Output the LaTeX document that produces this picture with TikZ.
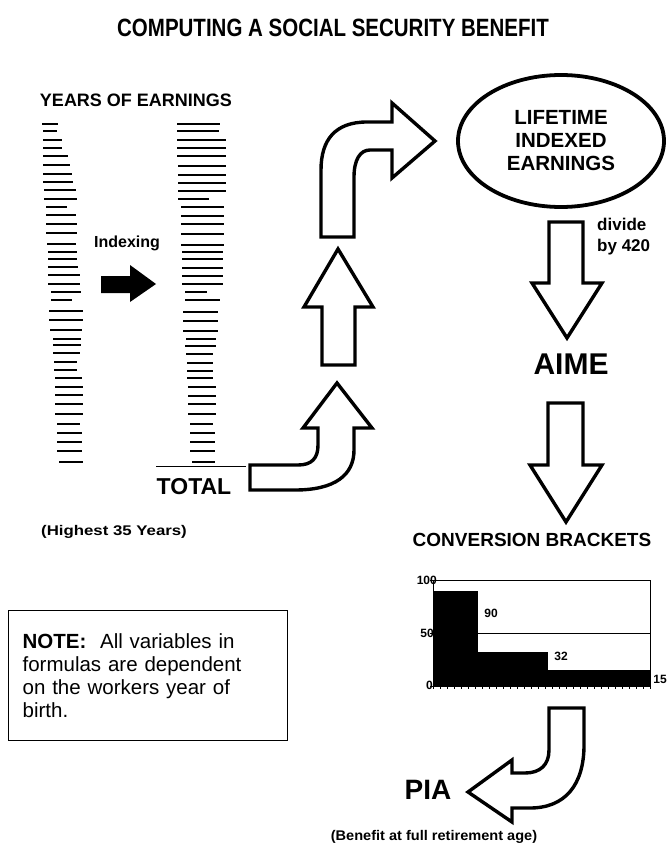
\documentclass[tikz,border=0pt]{standalone}
\usepackage{fontspec}
\setmainfont{Liberation Sans}
\usetikzlibrary{shapes.geometric}

\begin{document}
\begin{tikzpicture}[x=1pt, y=-1pt, every node/.style={inner sep=0pt},
  lbl/.style={font=\bfseries\fontsize{#1}{#1}\selectfont},
  fatarrow/.style={draw, line width=3.4pt, fill=white, line join=miter},
  yearbar/.style={line width=#1}]
\useasboundingbox (0,0) rectangle (669,850);

\node[lbl=25] (title) at (333,28) {\scalebox{0.82}[1]{COMPUTING A SOCIAL SECURITY BENEFIT}};
\node[lbl=18] (years) at (136,100) {YEARS OF EARNINGS};

\foreach \y/\a/\b in {124/42/58, 131/43/57, 140/43/62, 148/43/62, 156/43/68,
  165/43/70, 174/43/72, 182/43/73, 190/44/76, 199/44/77, 207/46/67, 215/46/76,
  224/46/77, 233/46/77, 244/47/76, 252/48/77, 259/48/77, 267/48/78, 275/48/80,
  284/48/80, 292/51/81, 300/51/72, 311/49/83, 320/49/83, 330/50/82, 339/53/81,
  345/53/81, 353/53/80, 362/54/77, 370/54/77, 378/55/82, 387/55/83, 395/55/83,
  404/55/83, 414/55/83, 424/57/80, 433/57/82, 442/57/82, 451/57/82, 462/59/83}
  \draw[yearbar=2.2pt] (\a,\y) -- (\b,\y);

\foreach \y/\a/\b in {124/177/220, 131/177/219, 140/177/226, 148/177/226,
  156/177/226, 166/178/226, 175/178/226, 183/178/226, 191/178/226, 199/178/209,
  207/181/224, 216/181/224, 224/181/224, 234/181/224, 245/181/224, 252/182/223,
  259/182/223, 268/182/223, 276/182/223, 284/182/223, 292/185/207, 300/185/220,
  312/183/218, 321/183/218, 331/183/218, 339/186/216, 346/185/216, 354/186/213,
  363/187/213, 371/187/213, 378/187/213, 387/188/216, 396/188/216, 404/188/216,
  414/188/216, 424/190/213, 433/190/215, 442/190/215, 451/190/215, 462/192/215}
  \draw[yearbar=2.8pt] (\a,\y) -- (\b,\y);

\node[lbl=16] (indexing) at (127,243) {Indexing};
\fill (101,276) -- (130,276) -- (130,265) -- (156,284) -- (130,302) -- (130,293) -- (101,293) -- cycle;

\draw[line width=1pt] (156,466) -- (246,466);
\node[lbl=23] (total) at (194,487) {TOTAL};
\node[lbl=14] (highest) at (114,532) {\scalebox{1.2}[1]{(Highest 35 Years)}};

\draw[fatarrow] (250,490) -- (295,490) .. controls (335,490) and (354,475) .. (354,450)
  -- (354,428) -- (372,428) -- (337,383) -- (303,428) -- (318,428) -- (318,445)
  .. controls (318,458) and (312,465) .. (298,465) -- (250,465) -- cycle;
\draw[fatarrow] (322,365) -- (322,307) -- (304,307) -- (338,249) -- (373,307)
  -- (355,307) -- (355,365) -- cycle;
\draw[fatarrow] (321,237) -- (321,170) .. controls (321,140) and (335,122) .. (367,122)
  -- (392,122) -- (392,103) -- (435,141) -- (392,178) -- (392,150) -- (370,150)
  .. controls (360,150) and (354,160) .. (354,177) -- (354,237) -- cycle;

\node[ellipse, draw, line width=3.8pt, minimum width=206, minimum height=132,
  align=center, font=\bfseries\fontsize{20.5}{23}\selectfont] (lie) at (561,141)
  {LIFETIME\\INDEXED\\EARNINGS};

\draw[fatarrow] (549,222) -- (583,222) -- (583,283) -- (602,283) -- (567,338)
  -- (532,283) -- (549,283) -- cycle;
\node[align=left, anchor=west, font=\bfseries\fontsize{17}{21}\selectfont] (divide)
  at (597,237) {divide\\by 420};
\node[lbl=30] (aime) at (571,364) {AIME};

\draw[fatarrow] (548,403) -- (583,403) -- (583,465) -- (602,465) -- (566,522)
  -- (530,465) -- (548,465) -- cycle;
\node[lbl=19] (conv) at (532,540) {CONVERSION BRACKETS};

\draw[line width=0.8pt] (433,580) rectangle (650,686);
\fill (433,686) rectangle (478,591);
\fill (478,686) rectangle (548,652);
\fill (548,686) rectangle (650,670);
\draw[line width=0.8pt] (478,633) -- (650,633);
\foreach \t in {0,...,31}
  \draw[line width=0.8pt] (433+\t*7,686) -- (433+\t*7,689);
\foreach \v in {0,50,100}
  \draw[line width=0.8pt] (430,686-\v*1.06) -- (433,686-\v*1.06);
\node[lbl=12, anchor=east] (t100) at (437,580) {100};
\node[lbl=12, anchor=east] (t50) at (434,633) {50};
\node[lbl=12, anchor=east] (t0) at (433,685) {0};
\node[lbl=12] (p90) at (491,613) {90};
\node[lbl=12] (p32) at (561,656) {32};
\node[lbl=12] (p15) at (660,679) {15};

\draw[fatarrow] (549,708) -- (549,750) .. controls (549,765) and (540,773) .. (525,773)
  -- (512,773) -- (512,760) -- (468,792) -- (512,822) -- (512,808) -- (530,808)
  .. controls (565,808) and (584,785) .. (584,745) -- (584,708) -- cycle;
\node[lbl=28] (pia) at (428,790) {PIA};
\node[lbl=14] (benefit) at (434,837) {\scalebox{1.04}[1]{(Benefit at full retirement age)}};

\node[draw, line width=1.3pt, anchor=north west, minimum width=279, minimum height=130,
  text width=251, inner xsep=14, align=left,
  font=\fontsize{20.5}{23}\selectfont] (note) at (8,610)
  {\textbf{NOTE:}\ \ All variables in\\formulas are dependent\\on the workers year of\\birth.};
\end{tikzpicture}
\end{document}
